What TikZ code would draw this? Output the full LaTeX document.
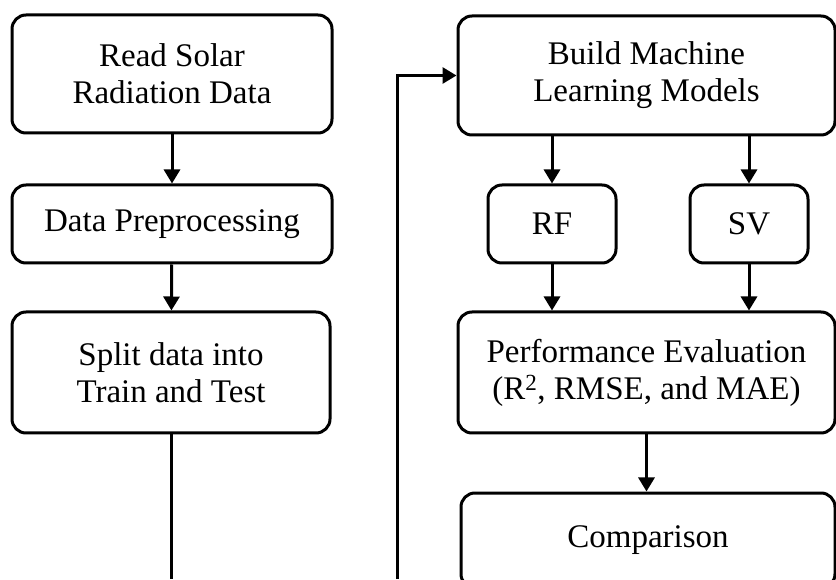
\documentclass[tikz,border=0pt]{standalone}
\usepackage{fontspec}
\setmainfont{Liberation Serif}
\usetikzlibrary{arrows.meta}

\tikzset{
  box/.style={draw, line width=3pt, rounded corners=14pt, align=center,
    inner sep=0pt, font=\fontsize{33}{37}\selectfont},
  link/.style={line width=3pt},
  flow/.style={link, -{Triangle[length=14pt,width=16pt]}},
}

\begin{document}
\begin{tikzpicture}[x=1pt,y=1pt]
    \useasboundingbox (0,0) rectangle (836,579);
    \clip (0,0) rectangle (836,579);

    % left column
    \node[box, minimum width=320, minimum height=118] (read) at (172,505) {Read Solar\\Radiation Data};
    \node[box, minimum width=320, minimum height=78] (prep) at (172,355) {Data Preprocessing};
    \node[box, minimum width=318, minimum height=121] (split) at (171,206.5) {Split data into\\Train and Test};

    \draw[flow] (read) -- (prep);
    \draw[flow] (prep) -- (split);

    \coordinate (splitend) at (171,0);
    \draw[link] (split) -- (splitend);

    % right column
    \node[box, minimum width=377, minimum height=119] (build) at (646.5,503.5) {Build Machine\\Learning Models};
    \node[box, minimum width=128, minimum height=78] (rf) at (552,355) {RF};
    \node[box, minimum width=118, minimum height=78] (sv) at (749,355) {SV};
    \node[box, minimum width=377, minimum height=121] (perf) at (646.5,206.5) {Performance Evaluation\\(R\textsuperscript{2}, RMSE, and MAE)};
    \node[box, minimum width=374, minimum height=95] (comp) at (648,38.5) {Comparison};

    \coordinate (loopend) at (397,0);
    \draw[flow] (loopend) |- (build.west);

    \draw[flow] (build.south -| rf) -- (rf);
    \draw[flow] (build.south -| sv) -- (sv);
    \draw[flow] (rf) -- (rf |- perf.north);
    \draw[flow] (sv) -- (sv |- perf.north);
    \draw[flow] (perf) -- (perf.south |- comp.north);
\end{tikzpicture}
\end{document}
